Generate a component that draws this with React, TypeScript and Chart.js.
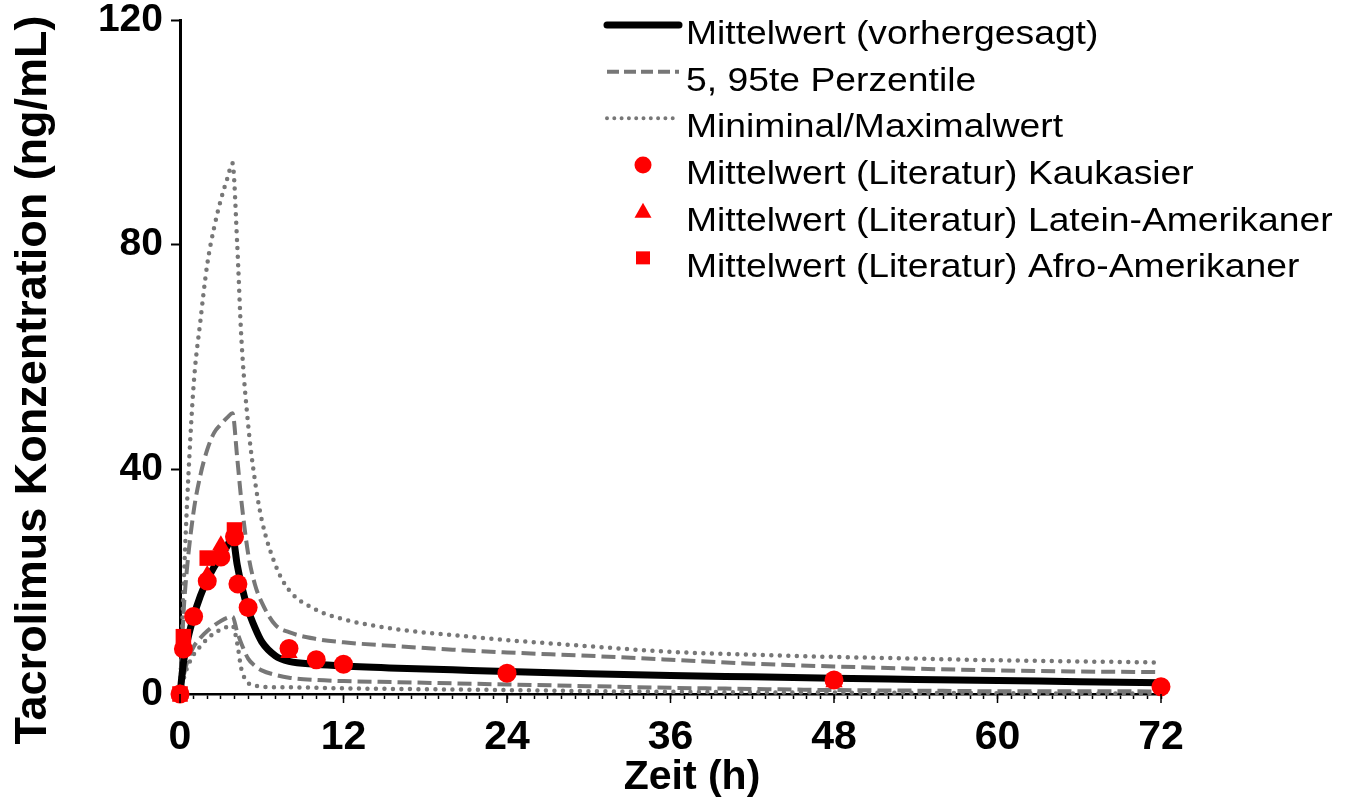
import React, { useEffect, useRef } from 'react';
import { Chart, registerables } from 'chart.js';
Chart.register(...registerables);

// Simulated curves (time in h)
const predTime = [0, 0.25, 0.5, 1, 1.5, 2, 2.5, 3, 3.5, 3.85, 4.2, 4.5, 5, 5.5, 6, 7, 8, 10, 12, 16, 20, 24, 30, 36, 42, 48, 54, 60, 66, 72];
const meanPred = [0, 5.5, 9, 13.8, 17.5, 20.3, 22.6, 24.5, 26.5, 28, 23, 19.5, 15, 11.8, 9.3, 6.8, 5.8, 5.3, 5.0, 4.6, 4.3, 4.0, 3.6, 3.3, 3.05, 2.8, 2.6, 2.4, 2.2, 2.0];
const p95 = [0, 14, 22, 32.5, 39, 43.5, 46.5, 48, 49.3, 50, 42, 34.5, 25, 19.5, 16.3, 12.3, 11, 9.8, 9.2, 8.5, 7.9, 7.4, 6.8, 6.1, 5.4, 4.9, 4.5, 4.2, 4.0, 3.9];
const p5 = [0, 3, 5.5, 8.4, 10, 11.2, 12.2, 13, 13.6, 13.8, 11, 9, 6.3, 5, 4.2, 3.4, 2.9, 2.5, 2.3, 2.1, 1.9, 1.7, 1.4, 1.1, 0.9, 0.7, 0.6, 0.5, 0.5, 0.45];
const maxVal = [0, 18, 33, 55, 66.5, 76.5, 83, 88, 92, 94.5, 80, 63.5, 48, 38, 31, 23, 18.5, 15, 13.3, 11.5, 10.5, 9.6, 8.5, 7.5, 7, 6.6, 6.3, 6, 5.8, 5.6];
const minVal = [0, 2.5, 4.5, 7, 8.5, 9.8, 10.8, 11.5, 12, 12.2, 9, 4.5, 2, 1.5, 1.3, 1.2, 1.2, 1.1, 1.0, 0.9, 0.8, 0.7, 0.5, 0.4, 0.3, 0.25, 0.2, 0.15, 0.1, 0.1];

// Observed literature means
const cauTime = [0, 0.25, 1, 2, 3, 4, 4.25, 5, 8, 10, 12, 24, 48, 72];
const cauConc = [0, 8.0, 13.8, 20.1, 24.4, 28, 19.6, 15.4, 8.1, 6.1, 5.3, 3.7, 2.5, 1.3];
const latTime = [0, 2, 3, 8, 48];
const latConc = [0, 21.2, 26.5, 7.3, 2.1];
const afrTime = [0, 0.25, 2, 4];
const afrConc = [0, 10.2, 24.2, 29.2];

const xTicksMajor = [0, 12, 24, 36, 48, 60, 72];
const yTicks = [0, 40, 80, 120];

const legendLabels = [
  'Mittelwert (vorhergesagt)',
  '5, 95te Perzentile',
  'Miniminal/Maximalwert',
  'Mittelwert (Literatur) Kaukasier',
  'Mittelwert (Literatur) Latein-Amerikaner',
  'Mittelwert (Literatur) Afro-Amerikaner',
];
const xTitle = 'Zeit (h)';
const yTitle = 'Tacrolimus Konzentration (ng/mL)';

const GREY = '#777777';
const RED = '#ff0000';
const FONT = 'Arial, "Liberation Sans", sans-serif';

const pts = (xs: number[], ys: number[]) => xs.map((x, i) => ({ x, y: ys[i] }));

const overlayPlugin = {
  id: 'overlay',
  afterDraw(chart: any) {
    const ctx = chart.ctx;
    const xs = chart.scales.x;
    const ys = chart.scales.y;
    ctx.save();
    // longer major ticks on x axis
    ctx.strokeStyle = '#000';
    ctx.lineWidth = 1.5;
    xTicksMajor.forEach((v) => {
      const px = xs.getPixelForValue(v);
      ctx.beginPath();
      ctx.moveTo(px, ys.bottom);
      ctx.lineTo(px, ys.bottom + 9);
      ctx.stroke();
    });
    // axis titles
    ctx.fillStyle = '#000';
    ctx.font = `bold 41px ${FONT}`;
    ctx.textAlign = 'center';
    ctx.textBaseline = 'alphabetic';
    ctx.fillText(xTitle, 692, 789);
    ctx.save();
    ctx.translate(46, 380);
    ctx.rotate(-Math.PI / 2);
    ctx.font = `bold 45px ${FONT}`;
    ctx.fillText(yTitle, 0, 0);
    ctx.restore();

    // legend
    const x0 = 607, x1 = 679, mx = 643, tx = 686;
    for (let i = 0; i < legendLabels.length; i++) {
      const my = 25 + 46.67 * i;
      ctx.save();
      ctx.lineCap = 'round';
      if (i === 0) {
        ctx.strokeStyle = '#000';
        ctx.lineWidth = 7;
        ctx.beginPath(); ctx.moveTo(x0, my); ctx.lineTo(x1, my); ctx.stroke();
      } else if (i === 1) {
        ctx.strokeStyle = GREY;
        ctx.lineWidth = 4;
        ctx.lineCap = 'butt';
        ctx.setLineDash([12, 5]);
        ctx.beginPath(); ctx.moveTo(x0, my); ctx.lineTo(x1, my); ctx.stroke();
      } else if (i === 2) {
        ctx.strokeStyle = GREY;
        ctx.lineWidth = 4;
        ctx.setLineDash([0, 7.3]);
        ctx.beginPath(); ctx.moveTo(x0, my); ctx.lineTo(x1, my); ctx.stroke();
      } else {
        ctx.fillStyle = RED;
        ctx.beginPath();
        if (i === 3) {
          ctx.arc(mx, my, 8.5, 0, Math.PI * 2);
        } else if (i === 4) {
          ctx.moveTo(mx, my - 9);
          ctx.lineTo(mx + 8.5, my + 6);
          ctx.lineTo(mx - 8.5, my + 6);
          ctx.closePath();
        } else {
          ctx.rect(mx - 7, my - 7, 14, 13);
        }
        ctx.fill();
      }
      ctx.restore();
      ctx.save();
      ctx.fillStyle = '#000';
      ctx.font = `33px ${FONT}`;
      ctx.textAlign = 'left';
      ctx.textBaseline = 'alphabetic';
      ctx.translate(tx, my + 19);
      ctx.scale(1.13, 1);
      ctx.fillText(legendLabels[i], 0, 0);
      ctx.restore();
    }
    ctx.restore();
  },
};

export default function App() {
  const ref = useRef<HTMLCanvasElement | null>(null);
  useEffect(() => {
    if (!ref.current) return;
    const lineBase = {
      pointRadius: 0,
      fill: false,
      cubicInterpolationMode: 'monotone' as const,
      clip: false as any,
    };
    const chart = new Chart(ref.current, {
      type: 'line',
      data: {
        datasets: [
          { label: 'Kaukasier', data: pts(cauTime, cauConc), showLine: false, pointStyle: 'circle', pointRadius: 9.5, backgroundColor: RED, borderColor: RED, borderWidth: 0, order: 0, clip: false as any },
          { label: 'Latein-Amerikaner', data: pts(latTime, latConc), showLine: false, pointStyle: 'triangle', pointRadius: 10, backgroundColor: RED, borderColor: RED, borderWidth: 0, order: 1, clip: false as any },
          { label: 'Afro-Amerikaner', data: pts(afrTime, afrConc), showLine: false, pointStyle: 'rect', pointRadius: 11, backgroundColor: RED, borderColor: RED, borderWidth: 0, order: 2, clip: false as any },
          { label: 'Mittelwert', data: pts(predTime, meanPred), borderColor: '#000', borderWidth: 7, order: 3, ...lineBase },
          { label: 'P95', data: pts(predTime, p95), borderColor: GREY, borderWidth: 4, borderDash: [14, 6], order: 4, ...lineBase },
          { label: 'P5', data: pts(predTime, p5), borderColor: GREY, borderWidth: 4, borderDash: [14, 6], order: 4, ...lineBase },
          { label: 'Max', data: pts(predTime, maxVal), borderColor: GREY, borderWidth: 4.5, borderDash: [0, 8.5], borderCapStyle: 'round', order: 5, ...lineBase },
          { label: 'Min', data: pts(predTime, minVal), borderColor: GREY, borderWidth: 4.5, borderDash: [0, 8.5], borderCapStyle: 'round', order: 5, ...lineBase },
        ] as any,
      },
      options: {
        responsive: false,
        animation: false,
        devicePixelRatio: 1,
        layout: { padding: { left: 0, top: 20, right: 193, bottom: 0 } },
        plugins: { legend: { display: false }, tooltip: { enabled: false } },
        scales: {
          x: {
            type: 'linear',
            min: 0,
            max: 72,
            afterFit: (s: any) => { s.height = 111; s.paddingLeft = 0; s.paddingRight = 0; },
            border: { display: true, color: '#000', width: 2.5 },
            grid: { display: true, drawOnChartArea: false, drawTicks: true, tickLength: 5, tickColor: '#000', tickWidth: 1.5 },
            afterBuildTicks: (s: any) => {
              const t = [];
              for (let v = 0; v <= 72; v++) t.push({ value: v });
              s.ticks = t;
            },
            ticks: {
              autoSkip: false,
              maxRotation: 0,
              minRotation: 0,
              padding: 14,
              color: '#000',
              font: { family: FONT, size: 41, weight: 'bold' },
              callback: (v: any) => (xTicksMajor.includes(Number(v)) ? String(v) : ''),
            },
          },
          y: {
            type: 'linear',
            min: 0,
            max: 120,
            afterFit: (s: any) => { s.width = 180; s.paddingTop = 0; s.paddingBottom = 0; },
            border: { display: true, color: '#000', width: 3 },
            grid: { display: true, drawOnChartArea: false, drawTicks: true, tickLength: 9, tickColor: '#000', tickWidth: 2 },
            afterBuildTicks: (s: any) => { s.ticks = yTicks.map((v) => ({ value: v })); },
            ticks: {
              padding: 8,
              color: '#000',
              font: { family: FONT, size: 39, weight: 'bold' },
            },
          },
        },
      } as any,
      plugins: [overlayPlugin],
    });
    return () => chart.destroy();
  }, []);
  return (
    <div style={{ position: 'fixed', left: 0, top: 0, width: 1354, height: 805, background: '#fff' }}>
      <canvas ref={ref} width={1354} height={805} style={{ display: 'block' }} />
    </div>
  );
}
